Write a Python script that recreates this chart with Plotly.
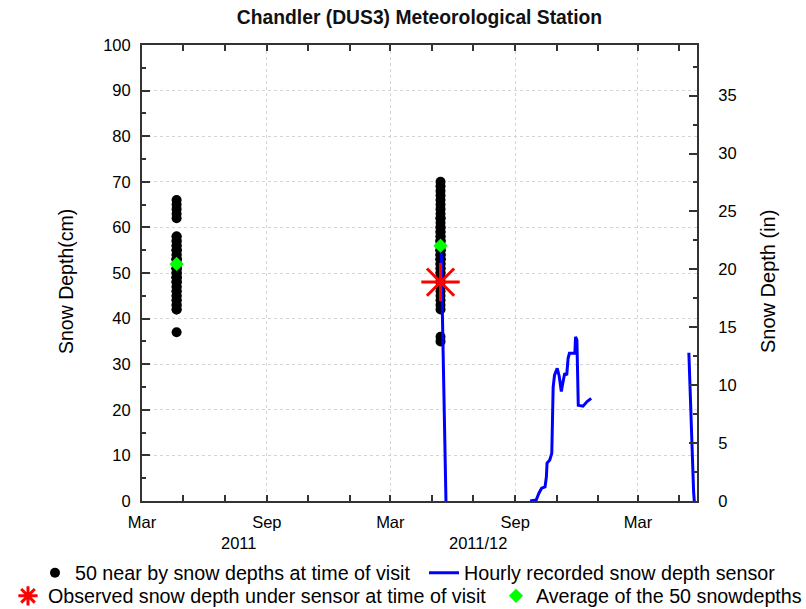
import plotly.graph_objects as go

# ---- data ----
visit1_date = "2011-04-21"
visit2_date = "2012-05-14"
near_depths_visit1 = [66, 65, 64, 63, 62, 58, 58, 57, 57, 56, 56, 55, 55, 54, 54,
                      53, 53, 53, 52, 52, 52, 51, 51, 51, 50, 50, 50, 49, 49, 49,
                      48, 48, 48, 47, 47, 46, 46, 45, 45, 44, 44, 43, 43, 42, 42,
                      55, 53, 51, 49, 37]
near_depths_visit2 = [70, 69, 68, 67, 66, 65, 64, 63, 62, 61, 60, 60, 59, 59, 58,
                      58, 57, 57, 57, 56, 56, 56, 55, 55, 55, 54, 54, 54, 53, 53,
                      53, 52, 52, 51, 51, 50, 50, 49, 49, 48, 48, 47, 46, 45, 44,
                      43, 42, 36, 35, 62]
avg_dates = [visit1_date, visit2_date]
avg_depths = [52, 56]
observed_dates = [visit2_date]
observed_depths = [48]

sensor_dates = ["2012-05-15", "2012-05-22", None,
                "2012-09-23", "2012-10-02", "2012-10-06", "2012-10-10", "2012-10-15",
                "2012-10-17", "2012-10-18", "2012-10-22", "2012-10-25", "2012-10-27",
                "2012-10-29", "2012-11-02", "2012-11-05", "2012-11-08", "2012-11-11",
                "2012-11-13", "2012-11-16", "2012-11-18", "2012-11-20", "2012-11-28",
                "2012-11-29", "2012-12-01", "2012-12-03", "2012-12-10", "2012-12-16",
                "2012-12-22", None,
                "2013-05-15", "2013-05-21", "2013-05-22", "2013-05-23"]
sensor_depths = [54.5, 0, None,
                 0, 0.2, 1.7, 2.8, 3.1,
                 5.3, 8.3, 9.0, 10.5, 25.0,
                 27.6, 29.1, 27.3, 24.0, 26.5,
                 28.0, 27.6, 31.3, 32.4, 32.4,
                 36.0, 35.3, 21.0, 20.8, 21.8,
                 22.5, None,
                 32.5, 2.0, 2.0, 0]

x_range = ["2011-03-01", "2013-05-27"]
cm_range = [0, 100]
in_range = [0, 100 / 2.54]

FONT = "Arial, 'Liberation Sans', sans-serif"
AXC = "#333333"
GRID = "#d4d4d4"
W, H = 806, 609


def leg(px_left, py_mid):
    return dict(orientation="v", x=px_left / W, y=1 - py_mid / H, xref="container",
                yref="container", xanchor="left", yanchor="middle",
                font=dict(size=19.7), bgcolor="rgba(0,0,0,0)", itemwidth=30,
                borderwidth=0)


fig = go.Figure()

fig.add_trace(go.Scatter(
    x=[visit1_date] * len(near_depths_visit1) + [visit2_date] * len(near_depths_visit2),
    y=near_depths_visit1 + near_depths_visit2,
    mode="markers", marker=dict(symbol="circle", size=10, color="black"),
    name="50 near by snow depths at time of visit", legend="legend"))
fig.add_trace(go.Scatter(
    x=sensor_dates, y=sensor_depths, mode="lines", connectgaps=False,
    line=dict(color="#0000ff", width=3),
    name="Hourly recorded snow depth sensor", legend="legend2"))
fig.add_trace(go.Scatter(
    x=observed_dates, y=observed_depths, mode="markers",
    marker=dict(symbol="asterisk-open", size=32, color="red", line=dict(color="red", width=3)),
    name="Observed snow depth under sensor at time of visit", legend="legend3"))
fig.add_trace(go.Scatter(
    x=avg_dates, y=avg_depths, mode="markers",
    marker=dict(symbol="diamond", size=11, color="#00ff00"),
    name="Average of the 50 snowdepths", legend="legend4"))
fig.add_trace(go.Scatter(x=[], y=[], yaxis="y2", showlegend=False, hoverinfo="skip"))

fig.update_layout(
    width=W, height=H,
    margin=dict(l=142, r=109, t=45, b=108, autoexpand=False),
    paper_bgcolor="white", plot_bgcolor="white",
    font=dict(family=FONT, size=17, color="black"),
    title=dict(text="<b>Chandler (DUS3) Meteorological Station</b>",
               x=0.5, xref="paper", y=1 - 17 / H, yref="container",
               xanchor="center", yanchor="middle",
               font=dict(size=19.3, color="#111111")),
    xaxis=dict(type="date", range=x_range, tick0="2011-03-01", dtick="M6",
               tickformat="%b", ticks="inside", ticklen=6, tickwidth=1.5, tickcolor=AXC,
               showline=True, linecolor=AXC, linewidth=2, mirror="ticks",
               showgrid=True, gridcolor=GRID, griddash="dot", gridwidth=1,
               minor=dict(dtick="M2", tick0="2011-03-01", ticks="inside", ticklen=6,
                          tickwidth=1.5, tickcolor=AXC, showgrid=False),
               tickfont=dict(size=16.5), zeroline=False, ticklabelstandoff=5),
    yaxis=dict(range=cm_range, dtick=10, ticks="inside", ticklen=8, tickwidth=1.5,
               tickcolor=AXC, showline=True, linecolor=AXC, linewidth=2,
               showgrid=True, gridcolor=GRID, griddash="dot", gridwidth=1,
               minor=dict(dtick=5, ticks="inside", ticklen=4, tickwidth=1.5,
                          tickcolor=AXC, showgrid=False),
               tickfont=dict(size=16.5), zeroline=False, ticklabelstandoff=6),
    yaxis2=dict(overlaying="y", side="right", range=in_range, dtick=5,
                ticks="inside", ticklen=8, tickwidth=1.5, tickcolor=AXC,
                showline=True, linecolor=AXC, linewidth=2, showgrid=False,
                minor=dict(dtick=2.5, ticks="inside", ticklen=4, tickwidth=1.5,
                           tickcolor=AXC, showgrid=False),
                tickfont=dict(size=16.5), zeroline=False, ticklabelstandoff=16),
    legend=leg(35, 573),
    legend2=leg(424, 573),
    legend3=leg(8, 596),
    legend4=leg(496, 596),
    showlegend=True,
    annotations=[
        dict(text="2011", x=(238 - 142) / 555, y=(501 - 543) / 456, xref="paper", yref="paper",
             showarrow=False, font=dict(size=16.5), xanchor="center", yanchor="middle"),
        dict(text="2011/12", x=(478 - 142) / 555, y=(501 - 543) / 456, xref="paper", yref="paper",
             showarrow=False, font=dict(size=16.5), xanchor="center", yanchor="middle"),
        dict(text="Snow Depth(cm)", x=(66 - 142) / 555, y=(501 - 282) / 456,
             xref="paper", yref="paper", showarrow=False, textangle=-90,
             font=dict(size=19.5), xanchor="center", yanchor="middle"),
        dict(text="Snow Depth (in)", x=(768 - 142) / 555, y=(501 - 282) / 456,
             xref="paper", yref="paper", showarrow=False, textangle=-90,
             font=dict(size=20), xanchor="center", yanchor="middle"),
    ],
)

fig.write_html("out.html")
